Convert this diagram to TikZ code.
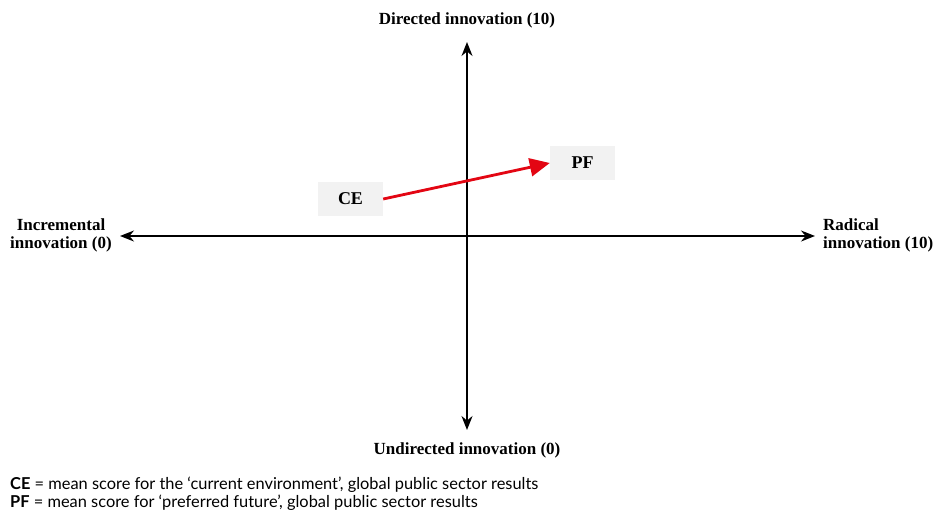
\documentclass[tikz,border=0pt]{standalone}
\usepackage{fontspec}
\setmainfont{Liberation Serif}
\newfontfamily\footfont{Lato}
\usetikzlibrary{arrows.meta}
\definecolor{boxgray}{HTML}{F2F2F2}
\definecolor{arrred}{HTML}{E30613}
\begin{document}
\begin{tikzpicture}[x=1pt,y=-1pt,
  axis/.style={line width=1.6pt,{Stealth[length=14pt,width=11pt]}-{Stealth[length=14pt,width=11pt]}},
  lab/.style={font=\fontsize{17}{18}\selectfont\bfseries,inner sep=0pt},
  scorebox/.style={fill=boxgray,minimum width=65pt,minimum height=34pt,inner sep=0pt,font=\fontsize{18}{20}\selectfont\bfseries},
  foot/.style={font=\footfont\fontsize{16.4}{18}\selectfont,anchor=west,inner sep=0pt}]
\useasboundingbox (0,0) rectangle (951,512);
\coordinate (L) at (120,236);
\coordinate (R) at (815,236);
\coordinate (T) at (467,42);
\coordinate (B) at (467,430);
\draw[axis] (L) -- (R);
\draw[axis] (B) -- (T);
\node[lab] (top) at (467,20) {Directed innovation (10)};
\node[lab] (bot) at (467,450) {Undirected innovation (0)};
\node[lab,align=center] (left) at (61,235) {Incremental\\innovation (0)};
\node[lab,align=left,anchor=west] (right) at (823,235) {Radical\\innovation (10)};
\node[scorebox] (CE) at (350.5,199) {CE};
\node[scorebox] (PF) at (582.5,163) {PF};
\draw[arrred,line width=2.8pt,-{Triangle[length=20pt,width=18pt]}] (CE.east) -- (PF.west);
\node[foot] (f1) at (10,485) {\textbf{CE} = mean score for the ‘current environment’, global public sector results};
\node[foot] (f2) at (10,503) {\textbf{PF} = mean score for ‘preferred future’, global public sector results};
\end{tikzpicture}
\end{document}
